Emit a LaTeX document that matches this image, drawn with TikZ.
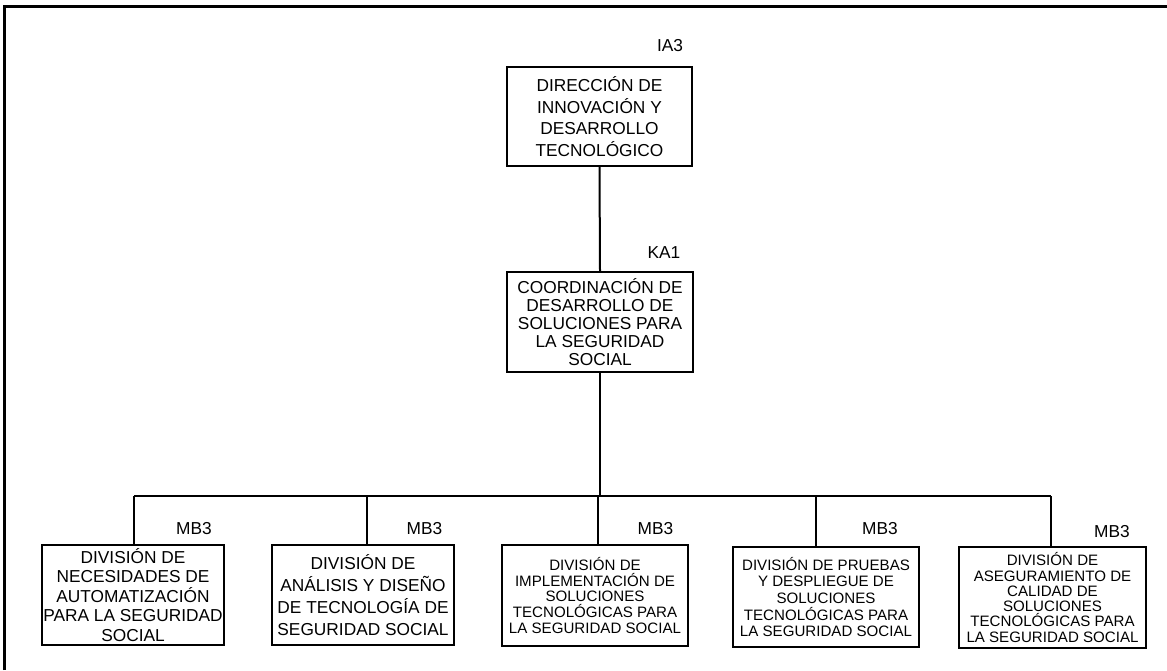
\documentclass[tikz,border=0pt]{standalone}
\usepackage{fontspec}
\setmainfont{Liberation Sans}
\begin{document}
\begin{tikzpicture}[x=1pt,y=1pt,
  unit/.style={draw, line width=2pt, inner sep=0pt, align=center},
  fa/.style={font=\fontsize{17.3}{#1}\selectfont},
  fb/.style={font=\fontsize{15.1}{#1}\selectfont},
  code/.style={inner sep=0pt, font=\fontsize{17.3}{20}\selectfont},
  link/.style={line width=2pt},
  frame/.style={line width=3pt}]
\useasboundingbox (0,0) rectangle (1167,-670);
\coordinate (fa) at (4,-670);
\coordinate (fc) at (4,-6);
\coordinate (fb) at (1167,-6);
\draw[frame] (fa) -- (fc) -- (fb);

\node[unit, fa=21.5, minimum width=185, minimum height=99] (top) at (599.5,-116.5)
  {DIRECCIÓN DE\\INNOVACIÓN Y\\DESARROLLO\\TECNOLÓGICO};
\node[code] (ltop) at (670,-46) {IA3};

\node[unit, fa=18, minimum width=186, minimum height=100] (mid) at (600,-322)
  {COORDINACIÓN DE\\DESARROLLO DE\\SOLUCIONES PARA\\LA SEGURIDAD\\SOCIAL};
\node[code] (lmid) at (664,-253) {KA1};

\node[unit, fa=19.5, minimum width=182, minimum height=100] (b1) at (133,-595)
  {DIVISIÓN DE\\NECESIDADES DE\\AUTOMATIZACIÓN\\PARA LA SEGURIDAD\\SOCIAL};
\node[unit, fa=22, minimum width=182, minimum height=100] (b2) at (363,-595)
  {DIVISIÓN DE\\ANÁLISIS Y DISEÑO\\DE TECNOLOGÍA DE\\SEGURIDAD SOCIAL};
\node[unit, fb=15.8, minimum width=186, minimum height=101] (b3) at (595,-595.5)
  {DIVISIÓN DE\\IMPLEMENTACIÓN DE\\SOLUCIONES\\TECNOLÓGICAS PARA\\LA SEGURIDAD SOCIAL};
\node[unit, fb=16.7, minimum width=186, minimum height=100] (b4) at (826,-597)
  {DIVISIÓN DE PRUEBAS\\Y DESPLIEGUE DE\\SOLUCIONES\\TECNOLÓGICAS PARA\\LA SEGURIDAD SOCIAL};
\node[unit, fb=15.3, minimum width=187, minimum height=101] (b5) at (1052.5,-597.5)
  {DIVISIÓN DE\\ASEGURAMIENTO DE\\CALIDAD DE\\SOLUCIONES\\TECNOLÓGICAS PARA\\LA SEGURIDAD SOCIAL};

\node[code] (l1) at (194,-528.5) {MB3};
\node[code] (l2) at (424.5,-528.5) {MB3};
\node[code] (l3) at (655.5,-528.5) {MB3};
\node[code] (l4) at (880,-528.5) {MB3};
\node[code] (l5) at (1112,-532) {MB3};

\coordinate (d1) at (134,-496);
\coordinate (d2) at (367,-496);
\coordinate (d3) at (598,-496);
\coordinate (d4) at (816,-496);
\coordinate (d5) at (1051,-496);

\draw[link] (top.south) -- (mid.north);
\draw[link] (mid.south) -- (mid.south |- d3);
\draw[link] (d1) -- (d5);
\draw[link] (d1) -- (d1 |- b1.north);
\draw[link] (d2) -- (d2 |- b2.north);
\draw[link] (d3) -- (d3 |- b3.north);
\draw[link] (d4) -- (d4 |- b4.north);
\draw[link] (d5) -- (d5 |- b5.north);
\end{tikzpicture}
\end{document}
